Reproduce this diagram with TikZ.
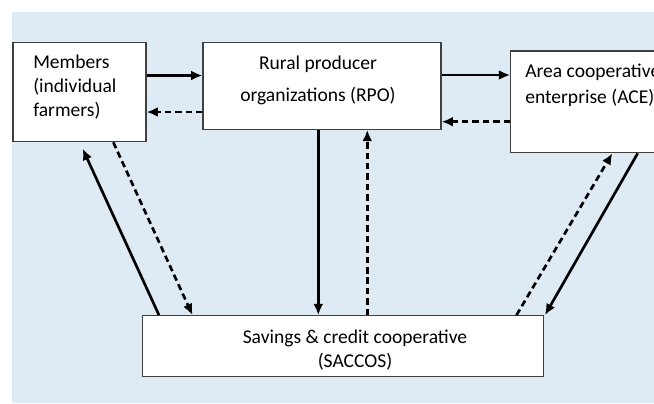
\documentclass[tikz,border=0pt]{standalone}
\usepackage{fontspec}
\setmainfont{Carlito}
\usetikzlibrary{arrows.meta}
\definecolor{bgblue}{RGB}{222,235,244}
\tikzset{
  box/.style={draw=black!75,line width=0.8pt,fill=white,inner sep=0pt},
  lbl/.style={inner sep=0pt,font=\fontsize{13.9}{17}\selectfont},
  flow/.style={line width=1.9pt,-{Latex[length=8pt,width=7pt]}},
  back/.style={flow,dash pattern=on 4.6pt off 2.8pt},
}

\begin{document}
\begin{tikzpicture}[x=0.025cm,y=-0.025cm]
    \useasboundingbox (0,0) rectangle (654,403);
    \clip (0,0) rectangle (654,403);
    \fill[bgblue] (12,12) rectangle (654,403);

    % boxes
    \node[box,minimum width=3.325cm,minimum height=2.48cm] (members) at (79.5,92.1) {};
    \node[box,minimum width=5.95cm,minimum height=2.165cm] (rpo) at (322,86) {};
    \node[box,minimum width=4.733cm,minimum height=2.543cm] (ace) at (605.35,101.85) {};
    \node[box,minimum width=10.018cm,minimum height=1.525cm] (saccos) at (342.65,346.2) {};

    % texts (base = last line)
    \node[lbl,anchor=base west,align=left] (memberstext) at (33,116.7) {Members\\(individual\\farmers)};
    \node[lbl,anchor=base,align=center,font=\fontsize{13.9}{22.7}\selectfont] (rpotext) at (318,101) {Rural producer\\organizations (RPO)};
    \node[lbl,anchor=base west,align=left,font=\fontsize{13.9}{18.4}\selectfont] (acetext) at (525,103.3) {Area cooperative\\enterprise (ACE)};
    \node[lbl,anchor=base,align=center] (saccostext) at (355,367.3) {Savings \& credit cooperative\\(SACCOS)};

    % top row
    \draw[flow] (members.east |- 0,75.5) -- (rpo.west |- 0,75.5);
    \draw[back] (rpo.west |- 0,112) -- (members.east |- 0,112);
    \draw[flow] (rpo.east |- 0,75) -- (ace.west |- 0,75);
    \draw[back] (ace.west |- 0,121.7) -- (rpo.east |- 0,121.7);

    % down to the SACCOS and back
    \draw[flow] (rpo.south -| 318.3,0) -- (saccos.north -| 318.3,0);
    \draw[back] (saccos.north -| 367.3,0) -- (rpo.south -| 367.3,0);
    \draw[flow,shorten >=5pt] (saccos.north -| 159,0) -- (members.south -| 79.7,0);
    \draw[back] (members.south -| 113.3,0) -- (saccos.north -| 192.5,0);
    \draw[back] (saccos.north -| 516.5,0) -- (ace.south -| 612.3,0);
    \draw[flow] (ace.south -| 637.7,0) -- (saccos.north -| 545,0);
\end{tikzpicture}
\end{document}
